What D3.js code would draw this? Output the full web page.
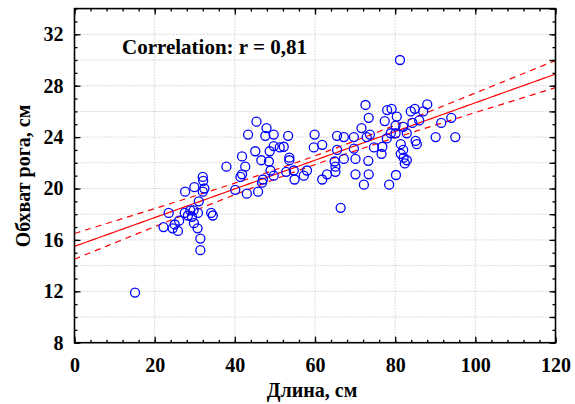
<!DOCTYPE html>
<html><head><meta charset="utf-8">
<script src="https://cdn.jsdelivr.net/npm/d3@7"></script>
<style>body{margin:0;background:#fff}svg{display:block}</style></head>
<body><svg id="c" width="575" height="404"></svg>
<script>
// ---- data ----
const lengthCm = [15.1,22.2,23.5,24.5,25.0,25.8,26.1,27.5,27.6,28.3,28.9,29.3,29.7,29.8,29.9,30.7,30.8,31.0,31.4,31.4,
  32.0,32.1,32.4,32.0,34.1,34.5,37.9,40.1,41.4,41.8,41.8,42.6,43.0,43.3,45.1,45.4,45.8,46.6,46.8,47.0,
  47.6,47.9,48.5,48.7,48.9,49.7,49.7,49.7,51.2,52.2,52.8,53.3,53.6,53.6,54.7,54.9,57.2,58.0,59.7,59.9,
  61.8,61.8,63.0,64.9,65.1,65.1,65.5,66.4,67.2,67.2,65.5,69.7,69.7,70.1,70.1,71.6,72.2,72.6,72.9,73.4,
  73.4,73.3,73.7,74.7,76.6,76.8,77.4,77.9,78.0,78.5,79.1,80.1,80.1,80.4,80.2,81.2,81.4,81.4,82.0,82.0,
  82.4,82.9,82.9,83.9,84.3,84.9,85.1,85.4,86.0,87.0,88.0,90.1,91.5,94.0,95.0,78.9,82.1];
const girthCm = [11.9,17.0,18.1,16.9,17.2,16.7,17.5,18.1,19.75,17.9,18.3,17.8,18.3,17.3,20.1,16.9,18.1,19.0,16.1,15.2,
  20.9,20.6,20.0,19.75,18.1,17.9,21.7,19.9,20.9,21.1,22.5,21.7,19.6,24.2,22.9,25.2,19.75,22.2,20.45,20.7,
  24.1,24.7,22.1,22.9,21.4,24.2,23.3,21.0,23.2,23.25,21.3,24.1,22.4,22.2,21.4,20.7,21.0,21.4,23.2,24.2,
  23.4,20.7,21.1,22.1,21.7,21.3,24.1,18.5,24.0,22.3,23.0,24.0,23.1,22.3,21.1,24.7,20.3,26.5,24.0,25.5,
  21.1,22.15,24.2,23.2,22.7,23.25,25.25,23.9,26.1,20.3,26.2,24.9,24.3,25.6,21.05,30.0,23.45,22.7,24.8,23.0,
  21.95,24.3,22.2,26.0,25.1,26.2,23.7,23.45,25.3,26.0,26.55,24.0,25.1,25.5,24.0,24.3,22.4];
// regression line as drawn in the picture (value at length 0 and slope)
const fitIntercept = 15.5;
const fitSlope = 0.1117;
const xTicks = [0,20,40,60,80,100,120];
const yTicks = [8,12,16,20,24,28,32];
const xTitle = "Длина, см";
const yTitle = "Обхват рога, см";
const corrLabel = "Correlation: r = 0,81";

// ---- layout ----
const L = 74.5, R = 555.5, T = 8.6, B = 342.7;
const svg = d3.select("#c");
const x = d3.scaleLinear().domain([0,120]).range([L,R]);
const y = d3.scaleLinear().domain([8,34]).range([B,T]);
const serif = "'Liberation Serif','Times New Roman',serif";

// grid
const grid = svg.append("g").attr("stroke","#b8b8b8").attr("stroke-width",1).attr("stroke-dasharray","1,2");
grid.selectAll("line.gx").data(d3.range(20,101,20)).join("line")
  .attr("x1",d=>x(d)).attr("x2",d=>x(d)).attr("y1",T).attr("y2",B);
grid.selectAll("line.gy").data(d3.range(10,33,2)).join("line")
  .attr("x1",L).attr("x2",R).attr("y1",d=>y(d)).attr("y2",d=>y(d));

// confidence band from data spread around the fit
const n = lengthCm.length;
const mx = d3.mean(lengthCm);
let sxx=0; for (let i=0;i<n;i++){ sxx += (lengthCm[i]-mx)**2; }
let sse=0; for (let i=0;i<n;i++){ sse += (girthCm[i]-fitIntercept-fitSlope*lengthCm[i])**2; }
const se = Math.sqrt(sse/(n-2)), tcrit = 1.98;
const xs = d3.range(0,120.01,1);
const fit = xs.map(v=>[v, fitIntercept+fitSlope*v]);
const half = v => tcrit*se*Math.sqrt(1/n + (v-mx)**2/sxx);
const up = xs.map(v=>[v, fitIntercept+fitSlope*v+half(v)]);
const lo = xs.map(v=>[v, fitIntercept+fitSlope*v-half(v)]);
const line = d3.line().x(d=>x(d[0])).y(d=>y(d[1]));
const lines = svg.append("g").attr("fill","none").attr("stroke","#ff0000").attr("stroke-width",1.2);
lines.append("path").attr("d",line(fit));
lines.append("path").attr("d",line(up)).attr("stroke-dasharray","6,5");
lines.append("path").attr("d",line(lo)).attr("stroke-dasharray","6,5");

// points
svg.append("g").selectAll("circle").data(lengthCm.map((v,i)=>[v,girthCm[i]])).join("circle")
  .attr("cx",d=>x(d[0])).attr("cy",d=>y(d[1])).attr("r",4.5)
  .attr("fill","none").attr("stroke","#0000ff").attr("stroke-width",1.3);

// axes
function style(g){ g.select(".domain").remove(); g.selectAll("line").attr("stroke","#000").attr("stroke-width",1.3);
  g.selectAll("text").attr("font-family",serif).attr("font-weight","bold").attr("font-size",20).attr("fill","#000"); }
svg.append("g").attr("transform",`translate(0,${B})`).call(d3.axisBottom(x).tickValues(d3.range(0,121,4)).tickSize(-3).tickFormat("")).call(style);
svg.append("g").attr("transform",`translate(0,${B})`).call(d3.axisBottom(x).tickValues(xTicks).tickSize(-6).tickPadding(15)).call(style);
svg.append("g").attr("transform",`translate(0,${T})`).call(d3.axisTop(x).tickValues(d3.range(0,121,4)).tickSize(-3).tickFormat("")).call(style);
svg.append("g").attr("transform",`translate(0,${T})`).call(d3.axisTop(x).tickValues(xTicks).tickSize(-6).tickFormat("")).call(style);
svg.append("g").attr("transform",`translate(${L},0)`).call(d3.axisLeft(y).tickValues(d3.range(8,35,1)).tickSize(-3).tickFormat("")).call(style);
svg.append("g").attr("transform",`translate(${L},0)`).call(d3.axisLeft(y).tickValues(yTicks).tickSize(-6).tickPadding(11)).call(style);
svg.append("g").attr("transform",`translate(${R},0)`).call(d3.axisRight(y).tickValues(d3.range(8,35,1)).tickSize(-3).tickFormat("")).call(style);
svg.append("g").attr("transform",`translate(${R},0)`).call(d3.axisRight(y).tickValues(d3.range(8,35,2)).tickSize(-6).tickFormat("")).call(style);

// frame
svg.append("rect").attr("x",L).attr("y",T).attr("width",R-L).attr("height",B-T)
  .attr("fill","none").attr("stroke","#000").attr("stroke-width",1.6);

// texts
svg.append("text").attr("x",122).attr("y",54).text(corrLabel)
  .attr("font-family",serif).attr("font-weight","bold").attr("font-size",21);
svg.append("text").attr("x",312).attr("y",397).attr("text-anchor","middle").text(xTitle)
  .attr("font-family",serif).attr("font-weight","bold").attr("font-size",20);
svg.append("text").attr("transform","translate(30,176) rotate(-90)").attr("text-anchor","middle").text(yTitle)
  .attr("font-family",serif).attr("font-weight","bold").attr("font-size",20);
</script></body></html>
